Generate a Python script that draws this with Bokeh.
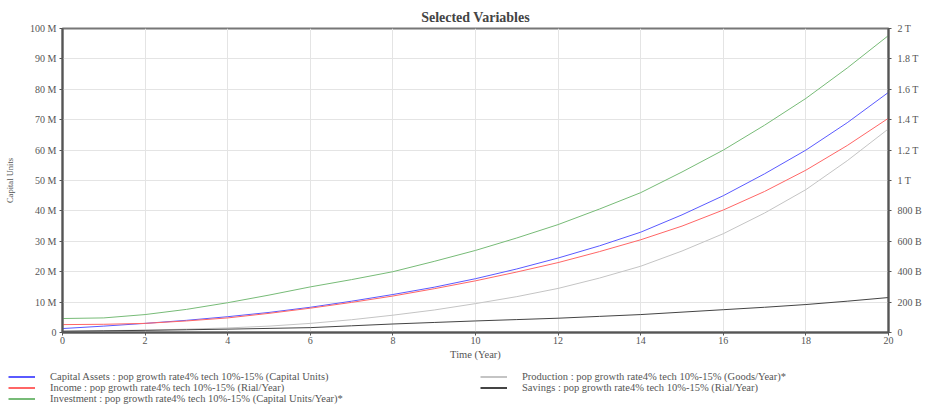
from bokeh.plotting import figure
from bokeh.models import Range1d, LinearAxis, FixedTicker, Legend, LegendItem
from bokeh.layouts import column
from bokeh.embed import file_html
from bokeh.resources import INLINE

# ---- data (values in millions) ----
time = list(range(0, 21))
capital_assets = [1.3, 2.1, 3.0, 4.0, 5.2, 6.6, 8.3, 10.3, 12.5, 14.9, 17.7, 20.9, 24.5, 28.5, 33.0, 38.7, 45.0, 52.2, 60.0, 69.0, 79.0]
income = [2.6, 2.7, 3.0, 3.8, 4.8, 6.3, 8.0, 9.9, 12.0, 14.4, 17.0, 19.9, 23.0, 26.6, 30.5, 35.0, 40.3, 46.4, 53.4, 61.5, 70.5]
investment = [4.6, 4.8, 5.9, 7.6, 9.8, 12.3, 15.0, 17.4, 20.0, 23.4, 27.0, 31.1, 35.5, 40.6, 46.0, 52.8, 60.0, 68.2, 77.0, 87.0, 97.7]
production = [0.5, 0.6, 0.8, 1.1, 1.5, 2.1, 3.0, 4.2, 5.7, 7.4, 9.5, 11.8, 14.5, 17.9, 21.8, 26.8, 32.5, 39.3, 47.0, 56.5, 67.0]
savings = [0.4, 0.55, 0.7, 0.9, 1.1, 1.35, 1.6, 2.2, 2.8, 3.3, 3.8, 4.25, 4.7, 5.3, 5.9, 6.7, 7.5, 8.3, 9.2, 10.3, 11.5]

x_ticks = [0, 2, 4, 6, 8, 10, 12, 14, 16, 18, 20]
left_ticks = [0, 10, 20, 30, 40, 50, 60, 70, 80, 90, 100]
left_labels = ["0", "10 M", "20 M", "30 M", "40 M", "50 M", "60 M", "70 M", "80 M", "90 M", "100 M"]
right_ticks = [0, 200, 400, 600, 800, 1000, 1200, 1400, 1600, 1800, 2000]
right_labels = ["0", "200 B", "400 B", "600 B", "800 B", "1 T", "1.2 T", "1.4 T", "1.6 T", "1.8 T", "2 T"]

legend_labels = [
    "Capital Assets : pop growth rate4% tech 10%-15% (Capital Units)",
    "Income : pop growth rate4% tech 10%-15% (Rial/Year)",
    "Investment : pop growth rate4% tech 10%-15% (Capital Units/Year)*",
    "Production : pop growth rate4% tech 10%-15% (Goods/Year)*",
    "Savings : pop growth rate4% tech 10%-15% (Rial/Year)",
]
colors = ["#5a5aff", "#ff6666", "#77bb77", "#c4c4c4", "#444444"]

FONT = "Liberation Serif"
TXT = "#555555"

p = figure(width=932, height=362, output_backend="svg", toolbar_location=None,
           x_range=Range1d(0, 20), y_range=Range1d(0, 100),
           min_border_left=62, min_border_right=44, min_border_top=28, min_border_bottom=29,
           title="Selected Variables")
p.frame_align = False
p.title.align = "center"
p.title.text_font = FONT
p.title.text_font_size = "14px"
p.title.text_font_style = "bold"
p.title.text_color = "#444444"
p.title.standoff = 8

p.extra_y_ranges = {"right": Range1d(0, 2000)}
ra = LinearAxis(y_range_name="right", ticker=FixedTicker(ticks=right_ticks),
                major_label_overrides={t: l for t, l in zip(right_ticks, right_labels)})
p.add_layout(ra, "right")

p.xaxis.ticker = FixedTicker(ticks=x_ticks)
p.yaxis[0].ticker = FixedTicker(ticks=left_ticks)
p.yaxis[0].major_label_overrides = {t: l for t, l in zip(left_ticks, left_labels)}
p.xaxis.axis_label = "Time (Year)"
p.yaxis[0].axis_label = "Capital Units"

for ax in p.axis:
    ax.major_label_text_font = FONT
    ax.major_label_text_font_size = "10px"
    ax.major_label_text_color = TXT
    ax.axis_label_text_font = FONT
    ax.axis_label_text_font_size = "10.5px"
    ax.axis_label_text_font_style = "normal"
    ax.axis_label_text_color = TXT
    ax.axis_line_color = "#555555"
    ax.axis_line_width = 2
    ax.major_tick_line_color = "#555555"
    ax.major_tick_in = 0
    ax.major_tick_out = 3
    ax.minor_tick_line_color = None
    ax.major_label_standoff = 3
    ax.axis_label_standoff = 4
p.yaxis[0].axis_label_text_font_size = "8.5px"
p.yaxis[0].axis_label_standoff = 12
ra.major_label_standoff = 6
p.xaxis.axis_label_standoff = 2
p.xaxis.major_label_standoff = 1

p.outline_line_color = "#777777"
p.outline_line_width = 2
p.grid.grid_line_color = "#e4e4e4"
p.xgrid.ticker = FixedTicker(ticks=x_ticks)
p.ygrid.ticker = FixedTicker(ticks=left_ticks)

series = [capital_assets, income, investment, production, savings]
for vals, c in zip(series, colors):
    p.line(time, vals, line_color=c, line_width=1)

# ---- legend strip below the chart ----
lf = figure(width=932, height=46, output_backend="svg", toolbar_location=None,
            x_range=Range1d(0, 1), y_range=Range1d(0, 1),
            x_axis_location=None, y_axis_location=None,
            min_border_left=0, min_border_right=0, min_border_top=0, min_border_bottom=0)
lf.frame_align = False
lf.outline_line_color = None
lf.grid.visible = False
nan = float("nan")
swatches = [lf.line([nan, nan], [nan, nan], line_color=c, line_width=2) for c in colors]

def make_legend(idx, loc):
    return Legend(items=[LegendItem(label=legend_labels[i], renderers=[swatches[i]]) for i in idx],
                  location=loc, orientation="vertical", padding=0, margin=0, spacing=0,
                  glyph_width=27, glyph_height=11, label_height=11, label_standoff=15,
                  label_text_font=FONT, label_text_font_size="10.5px", label_text_color=TXT,
                  background_fill_alpha=0, border_line_color=None)

lf.add_layout(make_legend([0, 1, 2], (8, 4)), "center")
lf.add_layout(make_legend([3, 4], (480, 15)), "center")

open("out.html", "w").write(file_html(column(p, lf), INLINE))
